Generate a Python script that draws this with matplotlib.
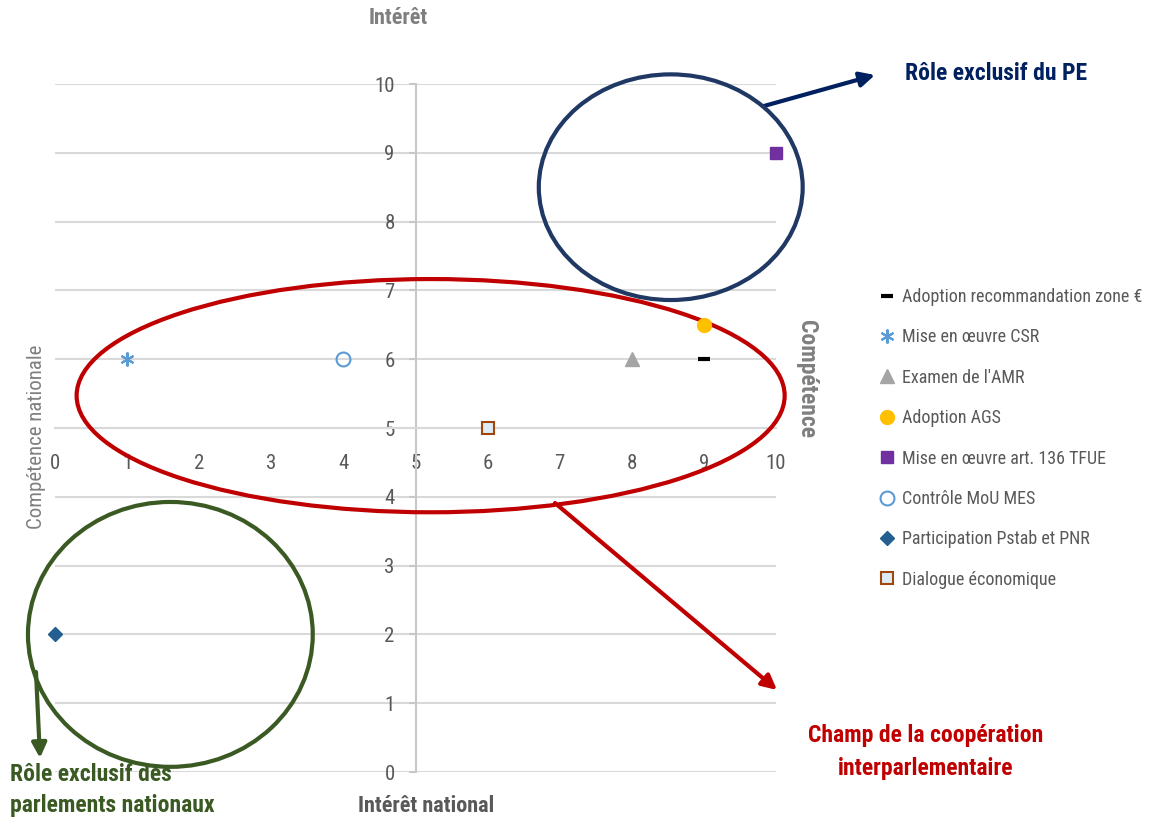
import matplotlib
matplotlib.use('Agg')
import matplotlib.pyplot as plt
from matplotlib import font_manager
from matplotlib.patches import Ellipse

# pick a narrow font if one is installed, else condensed DejaVu
names = {f.name for f in font_manager.fontManager.ttflist}
narrow = None
for cand in ['Roboto Condensed', 'Liberation Sans Narrow', 'Open Sans Condensed',
             'Noto Sans Condensed', 'DejaVu Sans Condensed']:
    if cand in names:
        narrow = cand
        break
if narrow:
    plt.rcParams['font.family'] = [narrow, 'DejaVu Sans']
else:
    plt.rcParams['font.family'] = ['DejaVu Sans']
    plt.rcParams['font.stretch'] = 'condensed'

# data
labels = ['Adoption recommandation zone €', 'Mise en œuvre CSR', "Examen de l'AMR",
          'Adoption AGS', 'Mise en œuvre art. 136 TFUE', 'Contrôle MoU MES',
          'Participation Pstab et PNR', 'Dialogue économique']
x_vals = [9, 1, 8, 9, 10, 4, 0, 6]
y_vals = [6, 6, 6, 6.5, 9, 6, 2, 5]
ticks = list(range(0, 11))

# styles per series
markers = ['_', (6, 2, 0), '^', 'o', 's', 'o', 'D', 's']
faces = ['black', '#5B9BD5', '#A5A5A5', '#FFC000', '#7030A0', 'none', '#255E91', '#DDEBF7']
edges = ['black', '#5B9BD5', '#A5A5A5', '#FFC000', '#7030A0', '#5B9BD5', '#255E91', '#9E480E']
sizes = [9, 10, 10, 10, 9, 10, 7, 9]
mews = [3, 1.5, 1, 1, 1, 1.5, 1, 1.5]

fig = plt.figure(figsize=(11.49, 8.25), dpi=100)
ax = fig.add_axes([55 / 1149, 53 / 825, 721 / 1149, 688 / 825])

for lab, x, y, m, fc, ec, s, mw in zip(labels, x_vals, y_vals, markers, faces, edges, sizes, mews):
    ax.plot([x], [y], linestyle='none', marker=m, markerfacecolor=fc, markeredgecolor=ec,
            markersize=s, markeredgewidth=mw, label=lab, clip_on=False, zorder=5)

ax.set_xlim(0, 10)
ax.set_ylim(0, 10)
ax.set_xticks(ticks)
ax.set_yticks(ticks)
ax.spines['left'].set_position(('data', 5))
ax.spines['bottom'].set_position(('data', 5))
ax.spines['top'].set_visible(False)
ax.spines['right'].set_visible(False)
ax.spines['left'].set_color('#C8C8C8')
ax.spines['bottom'].set_color('#D9D9D9')
for sp in ['left', 'bottom']:
    ax.spines[sp].set_linewidth(1.5)
ax.grid(axis='y', color='#D9D9D9', linewidth=1.5)
ax.set_axisbelow(True)
ax.tick_params(axis='both', colors='#C8C8C8', labelcolor='#595959', labelsize=15,
               width=1.5, direction='out')
ax.tick_params(axis='y', length=5, pad=10)
ax.tick_params(axis='x', length=0, pad=19)

# ellipses (annotation shapes)
ax.add_patch(Ellipse((8.54, 8.50), 3.66, 3.28, fill=False, edgecolor='#1F3864', lw=3, clip_on=False, zorder=4))
ax.add_patch(Ellipse((5.21, 5.47), 9.82, 3.39, fill=False, edgecolor='#C00000', lw=3, clip_on=False, zorder=4))
ax.add_patch(Ellipse((1.60, 2.00), 3.95, 3.85, fill=False, edgecolor='#3B5A23', lw=3, clip_on=False, zorder=4))


def fp(px, py):
    return (px / 1149, 1 - py / 825)


ax.annotate('', xy=fp(875, 75), xytext=fp(764, 106), xycoords='figure fraction',
            textcoords='figure fraction',
            arrowprops=dict(arrowstyle='-|>', color='#002060', lw=3, mutation_scale=22,
                            shrinkA=0, shrinkB=0))
ax.annotate('', xy=fp(777, 690), xytext=fp(555, 503), xycoords='figure fraction',
            textcoords='figure fraction',
            arrowprops=dict(arrowstyle='-|>', color='#C00000', lw=3, mutation_scale=22,
                            shrinkA=0, shrinkB=0))
ax.annotate('', xy=fp(40, 758), xytext=fp(36, 672), xycoords='figure fraction',
            textcoords='figure fraction',
            arrowprops=dict(arrowstyle='-|>', color='#3B5A23', lw=3, mutation_scale=22,
                            shrinkA=0, shrinkB=0))

fig.text(*fp(905, 73), 'Rôle exclusif du PE', color='#002060', fontsize=17,
         fontweight='bold', va='center', ha='left')
fig.text(*fp(926, 752), 'Champ de la coopération\ninterparlementaire', color='#C00000',
         fontsize=17, fontweight='bold', va='center', ha='center', linespacing=1.55)
fig.text(*fp(10, 790), 'Rôle exclusif des\nparlements nationaux', color='#3B5A23',
         fontsize=17, fontweight='bold', va='center', ha='left', linespacing=1.45)

# axis titles
fig.text(*fp(398, 18), 'Intérêt', color='#7F7F7F', fontsize=16, fontweight='bold',
         ha='center', va='center')
fig.text(*fp(426, 806), 'Intérêt national', color='#595959', fontsize=16, fontweight='bold',
         ha='center', va='center')
fig.text(*fp(37, 437), 'Compétence nationale', color='#7F7F7F', fontsize=15,
         rotation=90, ha='center', va='center')
fig.text(*fp(806, 379), 'Compétence', color='#7F7F7F', fontsize=17, fontweight='bold',
         rotation=-90, ha='center', va='center')

leg = fig.legend(loc='upper left', bbox_to_anchor=fp(880, 288), frameon=False,
                 fontsize=13, handlelength=0.75, handletextpad=0.45, labelspacing=1.24,
                 borderaxespad=0, borderpad=0)
for t in leg.get_texts():
    t.set_color('#595959')

fig.savefig('out.png', dpi=100)
